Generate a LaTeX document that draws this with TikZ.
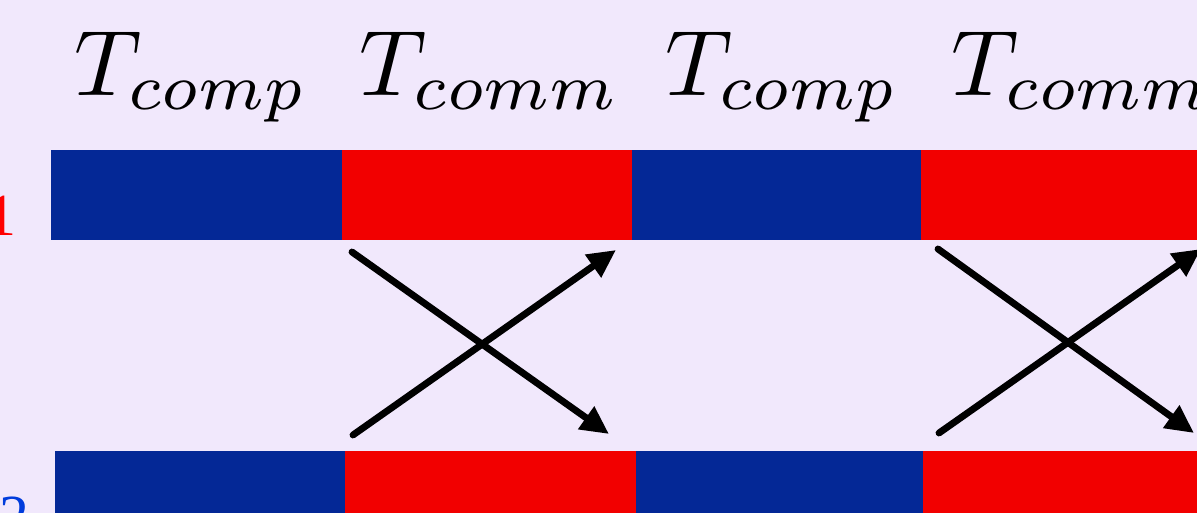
\documentclass[tikz,border=0pt]{standalone}
\usepackage{graphicx}
\usepackage{fontspec}
\newfontfamily\tnr{Liberation Serif}
\usetikzlibrary{arrows.meta}
\definecolor{bgc}{RGB}{241,232,252}
\definecolor{navy}{RGB}{4,40,150}
\definecolor{redbar}{RGB}{242,0,0}
\definecolor{lblue}{RGB}{0,60,220}
\newcommand{\ttltext}[1]{\scalebox{5.3}{$#1$}}
\tikzset{
  bar/.style={anchor=north west, inner sep=0pt, outer sep=0pt, minimum height=1.8cm},
  compbar/.style={bar, fill=navy},
  commbar/.style={bar, fill=redbar},
  lowbar/.style={minimum height=1.6cm},
  msg/.style={line width=3.9pt, line cap=round, -{Triangle[length=16pt,width=15pt]}},
  ttl/.style={anchor=base, inner sep=0pt}
}
\begin{document}
\begin{tikzpicture}[x=0.02cm,y=-0.02cm]
\useasboundingbox (0,0) rectangle (1197,513);
\fill[bgc] (0,0) rectangle (1197,513);
% titles
\node[ttl] (t1) at (191,96) {\ttltext{T_{comp}}};
\node[ttl] (t2) at (490,96) {\ttltext{T_{comm}}};
\node[ttl] (t3) at (782,96) {\ttltext{T_{comp}}};
\node[ttl] (t4) at (1082,96) {\ttltext{T_{comm}}};
% process labels
\node[anchor=base east, inner sep=0pt, text=red] (p1) at (17,214)
  {\tnr\fontsize{48}{50}\selectfont P\raisebox{-12pt}{\fontsize{34}{36}\selectfont 1}};
\node[anchor=base east, inner sep=0pt, text=lblue] (p2) at (30,515)
  {\tnr\fontsize{48}{50}\selectfont P\raisebox{-12pt}{\fontsize{34}{36}\selectfont 2}};
% top row
\node[compbar, minimum width=5.82cm] (a1) at (51,150) {};
\node[commbar, minimum width=5.80cm] (a2) at (342,150) {};
\node[compbar, minimum width=5.78cm] (a3) at (632,150) {};
\node[commbar, minimum width=5.80cm] (a4) at (921,150) {};
% bottom row
\node[compbar, lowbar, minimum width=5.80cm] (b1) at (55,451) {};
\node[commbar, lowbar, minimum width=5.82cm] (b2) at (345,451) {};
\node[compbar, lowbar, minimum width=5.74cm] (b3) at (636,451) {};
\node[commbar, lowbar, minimum width=5.80cm] (b4) at (923,451) {};
% message coordinates
\coordinate (s1) at (352,252);
\coordinate (e1) at (609,434);
\coordinate (s2) at (353,435);
\coordinate (e2) at (616,250);
\coordinate (s3) at (938,249);
\coordinate (e3) at (1194,433);
\coordinate (s4) at (939,433);
\coordinate (e4) at (1201,249);
\draw[msg] (s1) -- (e1);
\draw[msg] (s2) -- (e2);
\draw[msg] (s3) -- (e3);
\draw[msg] (s4) -- (e4);
\end{tikzpicture}
\end{document}
